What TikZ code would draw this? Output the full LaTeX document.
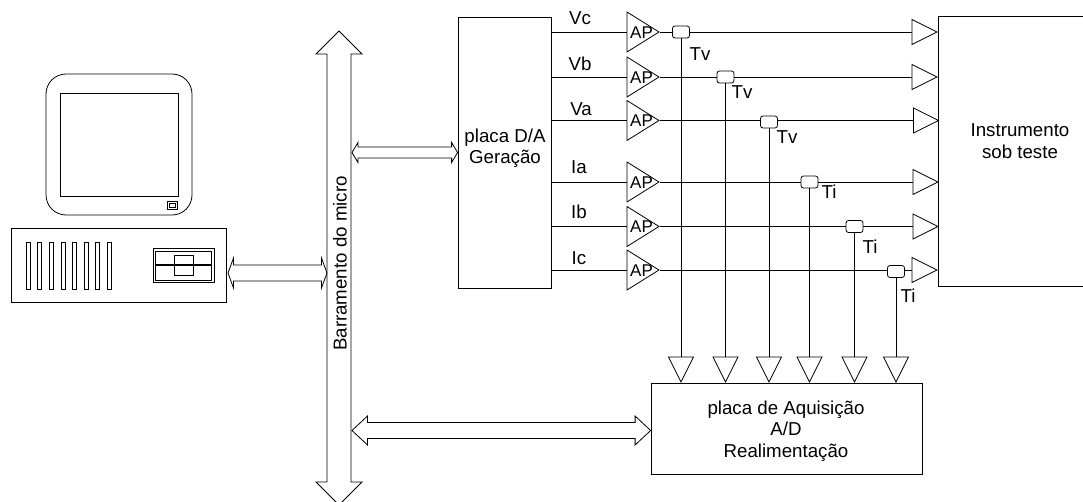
\documentclass[tikz,border=0pt]{standalone}
\usepackage{fontspec}
\setmainfont{Liberation Sans}
\usetikzlibrary{calc,shapes.geometric}

\tikzset{
    wire/.style={line width=0.8pt},
    board/.style={draw, wire, rectangle, inner sep=0pt},
    boardtext/.style={align=center, font=\fontsize{18.7}{21.5}\selectfont},
    signal/.style={font=\fontsize{18.7}{21.5}\selectfont, inner sep=0pt},
    amp/.style={draw, wire, isosceles triangle, isosceles triangle stretches, inner sep=0pt,
        minimum width=40pt, minimum height=32pt, anchor=apex},
    amptext/.style={font=\fontsize{17}{18}\selectfont, inner sep=0pt},
    drvright/.style={draw, wire, isosceles triangle, isosceles triangle stretches, inner sep=0pt,
        minimum width=25pt, minimum height=25pt, anchor=apex},
    drvdown/.style={drvright, shape border rotate=-90},
    sensor/.style={draw, wire, fill=white, rectangle, rounded corners=2.5pt, inner sep=0pt,
        minimum width=17pt, minimum height=12pt},
}

% hollow two-headed arrow: left end, right end, half shaft, half head, head length
\newcommand{\busarrow}[5]{
    \draw[wire] let \p1=#1, \p2=#2 in (\x1,\y1)
        -- (\x1+#5pt,\y1+#4pt) -- (\x1+#5pt,\y1+#3pt) -- (\x2-#5pt,\y1+#3pt) -- (\x2-#5pt,\y1+#4pt)
        -- (\x2,\y1)
        -- (\x2-#5pt,\y1-#4pt) -- (\x2-#5pt,\y1-#3pt) -- (\x1+#5pt,\y1-#3pt) -- (\x1+#5pt,\y1-#4pt)
        -- cycle;
}

\begin{document}
\begin{tikzpicture}[x=1pt, y=-1pt]
    \useasboundingbox (0,0) rectangle (1083,502);

    % Computer
    \begin{scope}[wire]
        \draw[rounded corners=20pt] (46,74) rectangle (192,215);
        \draw (60,93) rectangle (178,196);
        \draw (167,201) rectangle (177,209);
        \draw (169,203) rectangle (175,207);
        \draw (11,228) rectangle (226,302);
        \draw (26.5,242) rectangle (30.5,289);
        \draw (37.5,242) rectangle (41.5,289);
        \draw (49,242) rectangle (53,289);
        \draw (61,242) rectangle (65,289);
        \draw (72.5,242) rectangle (76.5,289);
        \draw (84,242) rectangle (88,289);
        \draw (95.5,242) rectangle (99.5,289);
        \draw (107,242) rectangle (111,289);
        \draw (153,248) rectangle (214,282);
        \draw (155,251) rectangle (211,280);
        \draw (174,255) rectangle (193,275);
        \draw[line width=1.2pt] (155,265) -- (211,265);
    \end{scope}

    % Bus
    \coordinate (cpuport) at (228,273);
    \coordinate (busleft) at (327,273);
    \coordinate (busdac) at (352,152.5);
    \coordinate (busadc) at (352,430.5);
    \draw[wire] (339,31) -- (362,54) -- (351,54) -- (351,482) -- (362,482) -- (339,505)
        -- (316,482) -- (327,482) -- (327,54) -- (316,54) -- cycle;
    \node[signal, rotate=90] (buslabel) at (340,263.5) {Barramento do micro};

    % Boards
    \node[board, minimum width=93pt, minimum height=271pt] (dac) at (504.5,152.5) {};
    \node[boardtext] (dactext) at (505,148) {placa D/A\\Geração};
    \node[board, minimum width=164pt, minimum height=270pt] (meter) at (1020,151) {};
    \node[boardtext] (metertext) at (1020,141) {Instrumento\\sob teste};
    \node[board, minimum width=271pt, minimum height=91pt] (adc) at (786.5,428.5) {};
    \node[boardtext] (adctext) at (786,431) {placa de Aquisição\\A/D\\Realimentação};

    \busarrow{(cpuport)}{(busleft)}{8}{15}{5.5}
    \busarrow{(busdac)}{(dac.west)}{5.5}{10}{6}
    \busarrow{(busadc)}{(adc.west |- busadc)}{8}{14.5}{15.5}

    % Amplifiers
    \node[amp] (apvc) at (660,32) {};
    \node[amp] (apvb) at (660,77) {};
    \node[amp] (apva) at (660,120.5) {};
    \node[amp] (apia) at (660,182) {};
    \node[amp] (apib) at (660,226.5) {};
    \node[amp] (apic) at (660,270) {};

    \node[amptext] (lapvc) at (641.5,32.5) {AP};
    \node[amptext] (lapvb) at (641.5,77.5) {AP};
    \node[amptext] (lapva) at (641.5,121) {AP};
    \node[amptext] (lapia) at (641.5,182.5) {AP};
    \node[amptext] (lapib) at (641.5,227) {AP};
    \node[amptext] (lapic) at (641.5,271) {AP};

    % Sensors
    \node[sensor] (tvc) at (681,32) {};
    \node[sensor] (tvb) at (725.5,77) {};
    \node[sensor] (tva) at (769,122) {};
    \node[sensor] (tia) at (809.5,182) {};
    \node[sensor] (tib) at (854.5,226.5) {};
    \node[sensor] (tic) at (896,271.5) {};

    % Drivers into the instrument
    \node[drvright] (invc) at (938,32) {};
    \node[drvright] (invb) at (938,77) {};
    \node[drvright] (inva) at (939.5,120.5) {};
    \node[drvright] (inia) at (939,182) {};
    \node[drvright] (inib) at (939,226.5) {};
    \node[drvright] (inic) at (938,270) {};

    % Drivers into the acquisition board
    \node[drvdown] (advc) at (681,383) {};
    \node[drvdown] (advb) at (725.5,383) {};
    \node[drvdown] (adva) at (769,383) {};
    \node[drvdown] (adia) at (809.5,383) {};
    \node[drvdown] (adib) at (854.5,383) {};
    \node[drvdown] (adic) at (896,383) {};

    % Lines
    \begin{scope}[wire]
        \draw (apvc.lower side -| dac.east) -- (apvc.lower side);
        \draw (apvb.lower side -| dac.east) -- (apvb.lower side);
        \draw (apva.lower side -| dac.east) -- (apva.lower side);
        \draw (apia.lower side -| dac.east) -- (apia.lower side);
        \draw (apib.lower side -| dac.east) -- (apib.lower side);
        \draw (apic.lower side -| dac.east) -- (apic.lower side);

        \draw (apvc.apex) -- (tvc.west);
        \draw (apvb.apex) -- (tvb.west);
        \draw (apva.apex) -- (tva.west |- apva.apex);
        \draw (apia.apex) -- (tia.west);
        \draw (apib.apex) -- (tib.west);
        \draw (apic.apex) -- (tic.west |- apic.apex);

        \draw (tvc.east) -- (invc.lower side);
        \draw (tvb.east) -- (invb.lower side);
        \draw (tva.east |- inva.lower side) -- (inva.lower side);
        \draw (tia.east) -- (inia.lower side);
        \draw (tib.east) -- (inib.lower side);
        \draw (tic.east |- inic.lower side) -- (inic.lower side);

        \draw (tvc.south) -- (advc.lower side);
        \draw (tvb.south) -- (advb.lower side);
        \draw (tva.south) -- (adva.lower side);
        \draw (tia.south) -- (adia.lower side);
        \draw (tib.south) -- (adib.lower side);
        \draw (tic.south) -- (adic.lower side);
    \end{scope}

    % Labels
    \node[signal] (lvc) at (580,18) {Vc};
    \node[signal] (lvb) at (580,64) {Vb};
    \node[signal] (lva) at (581,109) {Va};
    \node[signal] (lia) at (579,167) {Ia};
    \node[signal] (lib) at (579,212) {Ib};
    \node[signal] (lic) at (579,258) {Ic};

    \node[signal] (ltvc) at (700,54) {Tv};
    \node[signal] (ltvb) at (742,92) {Tv};
    \node[signal] (ltva) at (787,137) {Tv};
    \node[signal] (ltia) at (829,192) {Ti};
    \node[signal] (ltib) at (870,247) {Ti};
    \node[signal] (ltic) at (908,296) {Ti};
\end{tikzpicture}
\end{document}
